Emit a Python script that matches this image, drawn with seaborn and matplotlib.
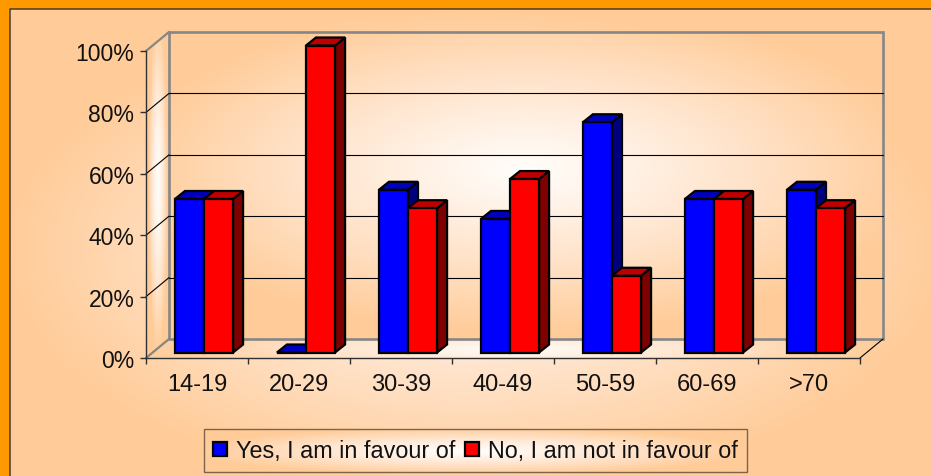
import numpy as np
import pandas as pd
import matplotlib
matplotlib.use("Agg")
import matplotlib.pyplot as plt
import seaborn as sns
from matplotlib.colors import LinearSegmentedColormap
from matplotlib.patches import Polygon, Rectangle

# values
age_groups = ["14-19", "20-29", "30-39", "40-49", "50-59", "60-69", ">70"]
yes_values = [50, 0, 53, 43.5, 75, 50, 53]
no_values = [50, 100, 47, 56.5, 25, 50, 47]
y_ticks = [0, 20, 40, 60, 80, 100]
yes_label = "Yes, I am in favour of"
no_label = "No, I am not in favour of"

W, H = 931, 477
sns.set_theme(style="white")
plt.rcParams["font.family"] = ["Liberation Sans", "DejaVu Sans"]

df = pd.DataFrame({
    "age": age_groups * 2,
    "share": yes_values + no_values,
    "answer": [yes_label] * 7 + [no_label] * 7,
})

fig = plt.figure(figsize=(W / 100, H / 100), dpi=100, facecolor="#FF9900")

# background layer in pixel coordinates
bg = fig.add_axes([0, 0, 1, 1], zorder=0)
bg.set_xlim(0, W)
bg.set_ylim(H, 0)
bg.axis("off")

glow = LinearSegmentedColormap.from_list("glow", ["#FFFDFA", "#FFE4CC", "#FFCC99"], N=256)


def gradient(x0, x1, y0, y1, cx, cy, rx, ry, clip=None, power=1.0):
    xx, yy = np.meshgrid(np.arange(x0, x1 + 1), np.arange(y0, y1 + 1))
    r = np.clip(np.hypot((xx - cx) / rx, (yy - cy) / ry), 0, 1) ** power
    im = bg.imshow(r, cmap=glow, vmin=0, vmax=1, extent=(x0, x1, y1, y0), aspect="auto")
    if clip is not None:
        patch = Polygon(clip, closed=True, fc="none", ec="none", transform=bg.transData)
        bg.add_patch(patch)
        im.set_clip_path(patch)
    return im


gradient(10, W, 10, H, 475, 250, 470, 240)
gradient(169, 883, 33, 340, 525, 170, 400, 165, power=1.1)
gradient(146, 169, 33, 359, 158, 185, 10, 170,
         clip=[(146, 52), (169, 33), (169, 340), (146, 359)], power=1.5)
gradient(146, 883, 340, 359, 515, 350, 380, 30,
         clip=[(146, 359), (169, 340), (883, 340), (860, 359)])
gradient(204, 745, 431, 473, 470, 452, 280, 24, power=1.2)
bg.set_xlim(0, W)
bg.set_ylim(H, 0)

# panel edge
bg.plot([9.5, 9.5, W], [H, 9.5, 9.5], color="#4A3A28", lw=1.1)

# walls
px_per_pct = 3.07
for v in y_ticks[1:-1]:
    yb = 340 - v * px_per_pct
    yf = 359 - v * px_per_pct
    bg.plot([169, 883], [yb, yb], color="black", lw=0.8)
    bg.plot([146, 169], [yf, yb], color="black", lw=0.8)
bg.plot([146, 169], [52, 33], color="#868686", lw=1.6)
bg.plot([146, 169], [359, 340], color="#868686", lw=1.6)
bg.plot([860, 883], [359, 340], color="black", lw=0.8)
bg.add_patch(Rectangle((169, 33), 714, 307, fc="none", ec="#868686", lw=1.9))

# front plane of the chart
ax = fig.add_axes([146 / W, 1 - 359 / H, 714 / W, 307 / H], zorder=1)
ax.patch.set_alpha(0)
sns.barplot(data=df, x="age", y="share", hue="answer",
            palette=["#0000FF", "#FF0000"], width=0.57, gap=0,
            edgecolor="black", linewidth=1.6, saturation=1, ax=ax)
ax.set_xlim(-0.5, 6.5)
ax.set_ylim(0, 100)

# bars stand a little behind the front plane, and have a depth
off_x, off_y = 7 / 102, 5.5 / px_per_pct
dep_x, dep_y = 10 / 102, 8 / px_per_pct
shades = [("#0000BF", "#00007F"), ("#BF0000", "#7F0000")]
for k, (container, (top_c, side_c)) in enumerate(zip(ax.containers, shades)):
    for bar in container:
        bar.set_x(bar.get_x() + off_x)
        bar.set_y(off_y)
        bar.set_clip_on(False)
        bar.set_zorder(3 + k * 0.2 + 0.1)
        x0, x1 = bar.get_x(), bar.get_x() + bar.get_width()
        y0, y1 = off_y, off_y + bar.get_height()
        ax.add_patch(Polygon([(x1, y0), (x1, y1), (x1 + dep_x, y1 + dep_y), (x1 + dep_x, y0 + dep_y)],
                             fc=side_c, ec="black", lw=1.6, clip_on=False, zorder=3 + k * 0.2))
        ax.add_patch(Polygon([(x0, y1), (x1, y1), (x1 + dep_x, y1 + dep_y), (x0 + dep_x, y1 + dep_y)],
                             fc=top_c, ec="black", lw=1.6, clip_on=False, zorder=3 + k * 0.2))

sns.despine(ax=ax, top=True, right=True)
for side in ["left", "bottom"]:
    ax.spines[side].set_color("#303030")
    ax.spines[side].set_linewidth(1.0)

ax.set_xlabel("")
ax.set_ylabel("")
ax.set_yticks(y_ticks)
ax.set_yticklabels([f"{v}%" for v in y_ticks])
ax.set_xticks(range(7))
ax.set_xticklabels(age_groups)
ax.set_xticks(np.arange(-0.5, 7), minor=True)
ax.tick_params(axis="x", which="major", length=0, labelsize=17, labelcolor="#111111", pad=11)
ax.tick_params(axis="x", which="minor", length=4.3, width=1, color="#303030", bottom=True)
ax.tick_params(axis="y", length=4.3, width=1, color="#303030", left=True, labelsize=16.5,
               labelcolor="#111111", pad=4)

handles, labels = ax.get_legend_handles_labels()
ax.legend_.remove()
leg = ax.legend(handles, labels, ncol=2, loc="lower left",
                bbox_to_anchor=(203.5 / W, 4 / H), bbox_transform=fig.transFigure,
                borderaxespad=0, fontsize=16.8, frameon=True, fancybox=False,
                facecolor="none", edgecolor="#5A4A38", handlelength=0.6, handleheight=0.6,
                handletextpad=0.36, columnspacing=0.43, borderpad=0.42)
leg.get_frame().set_linewidth(1.0)
for t in leg.get_texts():
    t.set_color("#111111")
for h in leg.legend_handles:
    h.set_edgecolor("black")
    h.set_linewidth(1.6)

fig.savefig("out.png", dpi=100, facecolor=fig.get_facecolor())
